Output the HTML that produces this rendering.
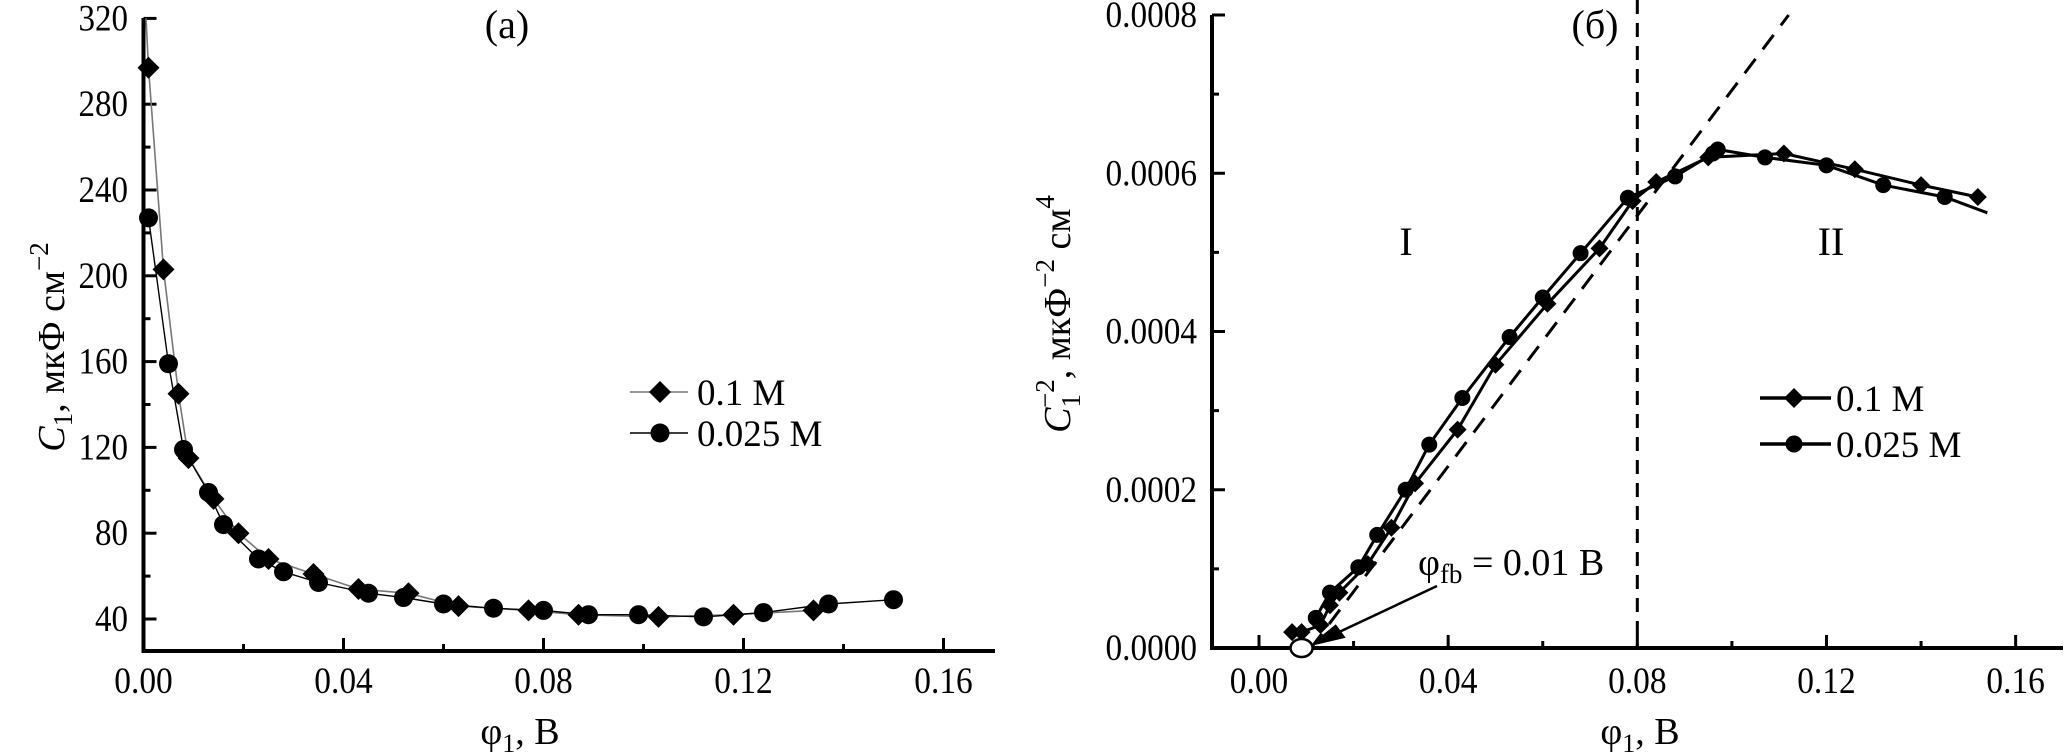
<!DOCTYPE html>
<html><head><meta charset="utf-8"><style>
html,body{margin:0;padding:0;background:#fff;}
svg{display:block;font-family:"Liberation Serif",serif;}
</style></head><body>
<svg id="c" width="2067" height="753" viewBox="0 0 2067 753">
<rect width="2067" height="753" fill="#fff"/>
<g id="gl"></g>
<g id="gr"></g>
</svg>
<script>
// ---- Chart (a) data ----
const aDiaX = [0.001,0.004,0.007,0.009,0.014,0.019,0.025,0.034,0.043,0.053,0.063,0.077,0.087,0.103,0.118,0.134];
const aDiaY = [297,203,145,115,96,80,68,61,54,52,46,44,42,41,42,44];
const aCirX = [0.001,0.005,0.008,0.013,0.016,0.023,0.028,0.035,0.045,0.052,0.060,0.070,0.080,0.089,0.099,0.112,0.124,0.137,0.150];
const aCirY = [227,159,119,99,84,68,62,57,52,50,47,45,44,42,42,41,43,47,49];
const aXTicks = ["0.00","0.04","0.08","0.12","0.16"];
const aYTicks = ["40","80","120","160","200","240","280","320"];
// ---- Chart (b) data ----
const bDiaX = [0.007,0.009,0.013,0.015,0.017,0.023,0.028,0.033,0.042,0.050,0.061,0.072,0.079,0.084,0.095,0.111,0.126,0.140,0.152];
const bDiaY = [0.00002,0.00002,0.000029,0.000054,0.00007,0.000106,0.000152,0.000208,0.000276,0.000358,0.000435,0.000505,0.000565,0.000589,0.00062,0.000625,0.000605,0.000585,0.00057];
const bCirX = [0.012,0.015,0.021,0.025,0.031,0.036,0.043,0.053,0.060,0.068,0.078,0.088,0.096,0.097,0.107,0.120,0.132,0.145,0.154];
const bCirY = [0.000038,0.00007,0.000102,0.000143,0.0002,0.000257,0.000316,0.000393,0.000443,0.000499,0.000569,0.000596,0.000625,0.00063,0.00062,0.00061,0.000585,0.00057,0.00055];
const bXTicks = ["0.00","0.04","0.08","0.12","0.16"];
const bYTicks = ["0.0000","0.0002","0.0004","0.0006","0.0008"];
const bTangentX = [0.011,0.112];
const bTangentY = [0,0.0008];
const bVline = 0.08;
const bFb = 0.009;

const NS="http://www.w3.org/2000/svg";
function mk(p,tag,attrs,txt){const e=document.createElementNS(NS,tag);for(const k in attrs)e.setAttribute(k,attrs[k]);if(txt!==undefined)e.textContent=txt;p.appendChild(e);return e;}
function tw(s){let w=0;for(const ch of s)w+=(ch=='.'?9:16.5);return w;}

const xL=v=>143.5+v*5000, yL=v=>619-(v-40)*2.145;
const xR=v=>1259+v*4729, yR=v=>648-v*791250;

function diamond(g,cx,cy,s,name){const e=mk(g,'path',{d:`M${cx} ${cy-s}L${cx+s} ${cy}L${cx} ${cy+s}L${cx-s} ${cy}Z`,fill:'#000'});

return e;}
function circ(g,cx,cy,r,name){const e=mk(g,'circle',{cx:cx,cy:cy,r:r,fill:'#000'});

return e;}
function poly(g,xs,ys,fx,fy,attrs,name){const pts=xs.map((x,i)=>fx(x).toFixed(1)+','+fy(ys[i]).toFixed(1)).join(' ');const e=mk(g,'polyline',Object.assign({points:pts,fill:'none'},attrs));

return e;}
function label(g,x,y,s,anchor,name,size){const w=tw(s);const e=mk(g,'text',{x:x,y:y,'font-size':size||37,'text-anchor':anchor,textLength:w,lengthAdjust:'spacingAndGlyphs'},s);

return e;}

// ===== Chart (a) =====
const gl=document.getElementById('gl');
let e;
e=mk(gl,'path',{d:'M143.5 18V651H995',stroke:'#000','stroke-width':4,fill:'none'});


for(let v=40;v<=320;v+=20){const y=yL(v);mk(gl,'line',{x1:143.5,x2:143.5+(v%40==0?13:7),y1:y,y2:y,stroke:'#000','stroke-width':3});}
for(let k=1;k<=8;k++){const x=xL(k*0.02);mk(gl,'line',{x1:x,x2:x,y1:651,y2:651-(k%2==0?13:7),stroke:'#000','stroke-width':3});}
aYTicks.forEach(s=>{label(gl,128,yL(+s)+12,s,'end','y-tick-label-a');});
aXTicks.forEach(s=>{label(gl,xL(+s),693,s,'middle','x-tick-label-a');});
poly(gl,[0.0005].concat(aDiaX),[320].concat(aDiaY),xL,yL,{stroke:'#777','stroke-width':1.6},'line-0.1M-a');
poly(gl,aCirX,aCirY,xL,yL,{stroke:'#000','stroke-width':1.4},'line-0.025M-a');
aDiaX.forEach((x,i)=>diamond(gl,xL(x),yL(aDiaY[i]),11,'point-0.1M-a'));
aCirX.forEach((x,i)=>circ(gl,xL(x),yL(aCirY[i]),9.5,'point-0.025M-a'));
e=mk(gl,'text',{x:507,y:38,'font-size':40,'text-anchor':'middle'},'(a)');


e=mk(gl,'text',{x:520,y:744,'font-size':38,'text-anchor':'middle'});
e.innerHTML='φ<tspan font-size="26" dy="8">1</tspan><tspan dy="-8">, В</tspan>';


e=mk(gl,'text',{x:0,y:0,'font-size':38,'text-anchor':'middle',transform:'translate(64,347) rotate(-90)'});
e.innerHTML='<tspan font-style="italic">C</tspan><tspan font-size="27" dy="8">1</tspan><tspan dy="-8">, мкФ см</tspan><tspan font-size="27" dy="-16">−2</tspan>';


e=mk(gl,'g',{});


mk(e,'line',{x1:630,x2:688,y1:392,y2:392,stroke:'#777','stroke-width':1.6});
diamond(e,660,392,11,'legend-marker-0.1M-a');
mk(e,'text',{x:697,y:405,'font-size':37},'0.1 M');
mk(e,'line',{x1:630,x2:688,y1:433,y2:433,stroke:'#000','stroke-width':1.4});
circ(e,660,433,9.5,'legend-marker-0.025M-a');
mk(e,'text',{x:697,y:446,'font-size':37},'0.025 M');

// ===== Chart (b) =====
const gr=document.getElementById('gr');
e=mk(gr,'path',{d:'M1212 15V648H2063',stroke:'#000','stroke-width':4,fill:'none'});


for(let k=1;k<=8;k++){const y=yR(k*0.0001);mk(gr,'line',{x1:1212,x2:1212+(k%2==0?13:7),y1:y,y2:y,stroke:'#000','stroke-width':3});}
for(let k=0;k<=8;k++){const x=xR(k*0.02);mk(gr,'line',{x1:x,x2:x,y1:648,y2:648-(k%2==0?13:7),stroke:'#000','stroke-width':3});}
bYTicks.forEach(s=>{label(gr,1197,yR(+s)+12,s,'end','y-tick-label-b');});
bXTicks.forEach(s=>{label(gr,xR(+s),693,s,'middle','x-tick-label-b');});
e=mk(gr,'line',{x1:xR(bVline),x2:xR(bVline),y1:0,y2:648,stroke:'#000','stroke-width':3,'stroke-dasharray':'14 9'});


e=mk(gr,'line',{x1:xR(bTangentX[0]),y1:yR(bTangentY[0]),x2:xR(bTangentX[1]),y2:yR(bTangentY[1]),stroke:'#000','stroke-width':3,'stroke-dasharray':'18 12'});


poly(gr,bDiaX,bDiaY,xR,yR,{stroke:'#000','stroke-width':3},'line-0.1M-b');
poly(gr,bCirX,bCirY,xR,yR,{stroke:'#000','stroke-width':3},'line-0.025M-b');
bDiaX.forEach((x,i)=>diamond(gr,xR(x),yR(bDiaY[i]),9,'point-0.1M-b'));
bCirX.slice(0,-1).forEach((x,i)=>circ(gr,xR(x),yR(bCirY[i]),8,'point-0.025M-b'));
e=mk(gr,'ellipse',{cx:xR(bFb),cy:648,rx:11,ry:9,fill:'#fff',stroke:'#000','stroke-width':2.5});


e=mk(gr,'path',{d:`M1437 586L${xR(bFb)+12} 644M${xR(bFb)+12} 644l30 -7l-8 -11z`,stroke:'#000','stroke-width':2.5,fill:'#000'});


e=mk(gr,'text',{x:1418,y:575,'font-size':38});
e.innerHTML='φ<tspan font-size="27" dy="8">fb</tspan><tspan dy="-8"> = 0.01 В</tspan>';


e=mk(gr,'text',{x:1595,y:38,'font-size':40,'text-anchor':'middle'},'(б)');


e=mk(gr,'text',{x:1406,y:255,'font-size':40,'text-anchor':'middle'},'I');


e=mk(gr,'text',{x:1831,y:255,'font-size':40,'text-anchor':'middle'},'II');


e=mk(gr,'text',{x:1640,y:744,'font-size':38,'text-anchor':'middle'});
e.innerHTML='φ<tspan font-size="26" dy="8">1</tspan><tspan dy="-8">, В</tspan>';


e=mk(gr,'text',{x:0,y:0,'font-size':38,'text-anchor':'middle',transform:'translate(1070,314) rotate(-90)'});
e.innerHTML='<tspan font-style="italic">C</tspan><tspan font-size="27" dy="10">1</tspan><tspan font-size="27" dx="-14" dy="-26">−2</tspan><tspan dy="16">, мкФ</tspan><tspan font-size="27" dy="-16">−2</tspan><tspan dy="16"> см</tspan><tspan font-size="27" dy="-16">4</tspan>';


e=mk(gr,'g',{});


mk(e,'line',{x1:1760,x2:1831,y1:398,y2:398,stroke:'#000','stroke-width':3.5});
diamond(e,1794,398,10,'legend-marker-0.1M-b');
mk(e,'text',{x:1836,y:411,'font-size':37},'0.1 M');
mk(e,'line',{x1:1760,x2:1831,y1:444,y2:444,stroke:'#000','stroke-width':3.5});
circ(e,1794,444,8.5,'legend-marker-0.025M-b');
mk(e,'text',{x:1836,y:457,'font-size':37},'0.025 M');
</script>
</body></html>
